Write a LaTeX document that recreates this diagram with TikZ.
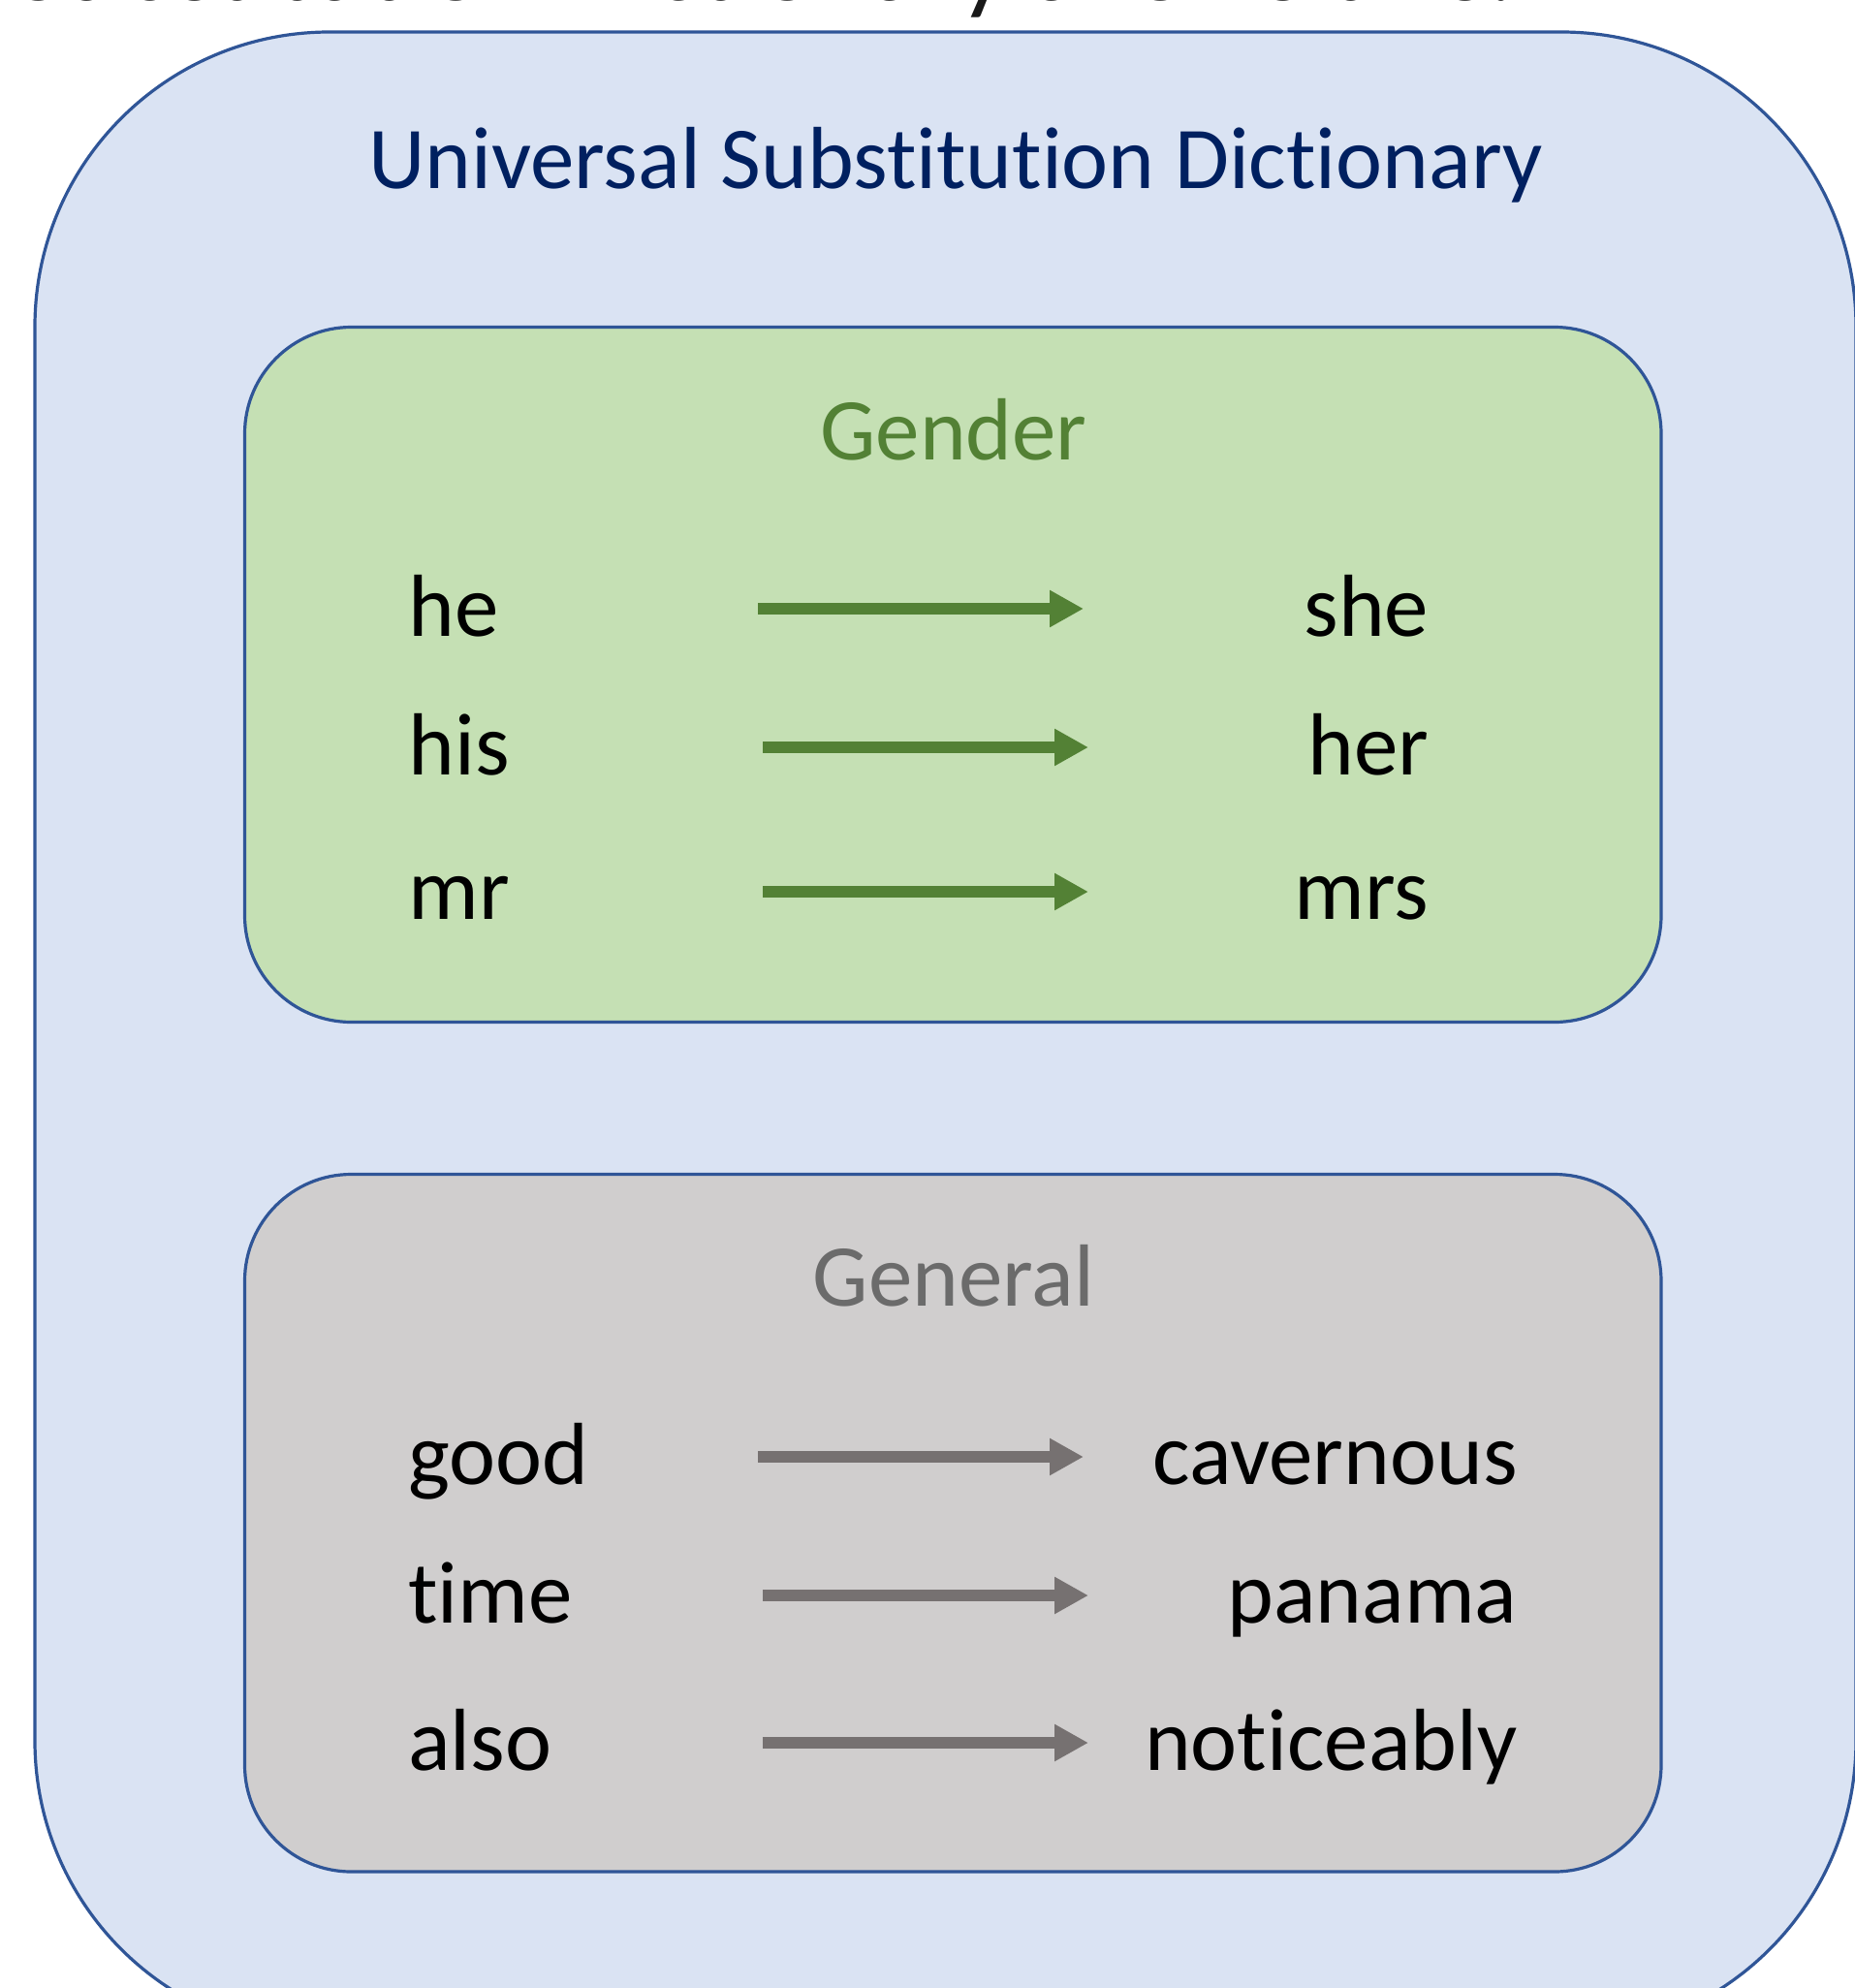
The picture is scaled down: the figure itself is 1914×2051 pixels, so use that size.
\documentclass[tikz,border=0pt]{standalone}
\usepackage{fontspec}
\setmainfont[Ligatures=NoCommon]{Carlito}
\usetikzlibrary{arrows.meta}

\definecolor{outerfill}{HTML}{DAE3F3}
\definecolor{frameblue}{HTML}{2F5597}
\definecolor{titlenavy}{HTML}{002060}
\definecolor{genderfill}{HTML}{C5E0B4}
\definecolor{gendergreen}{HTML}{538135}
\definecolor{generalfill}{HTML}{D0CECE}
\definecolor{generalgrey}{HTML}{767171}
\definecolor{generaltitle}{HTML}{6B6B6B}

\tikzset{
  wordfont/.style={font=\fontsize{45.5pt}{54pt}\selectfont, inner sep=0pt},
  captionfont/.style={font=\fontsize{55pt}{64pt}\selectfont, inner sep=0pt, text=black!90},
  groupbox/.style={draw=frameblue, line width=1.6pt, rounded corners=55pt},
  srcword/.style={wordfont, anchor=base west},
  dstword/.style={wordfont, anchor=base east},
  maparrow/.style={line width=6pt, -{Triangle[length=17.5pt,width=18pt]}},
  greenarrow/.style={maparrow, draw=gendergreen},
  greyarrow/.style={maparrow, draw=generalgrey},
}

\begin{document}
\begin{tikzpicture}[x=0.5pt, y=-0.5pt]
\useasboundingbox (0,0) rectangle (1914,2051);

% caption line running off the top edge
\node[captionfont, anchor=base west] (caption) at (15,0) {Substitution Dictionary allows this:};

% outer container
\draw[fill=outerfill, draw=frameblue, line width=1.6pt, rounded corners=152pt]
  (36,33) rectangle (1915,2100);
\node[wordfont, anchor=base, text=titlenavy] (dicttitle) at (986,194) {Universal Substitution Dictionary};

% gender group
\draw[groupbox, fill=genderfill] (252.5,337.5) rectangle (1714,1054.5);
\node[wordfont, anchor=base, text=gendergreen] (gendertitle) at (984,474) {Gender};

\node[srcword] (he)  at (421,656) {he};
\node[srcword] (his) at (421,799) {his};
\node[srcword] (mr)  at (421,948) {mr};
\node[dstword] (she) at (1474.5,656) {she};
\node[dstword] (her) at (1474.5,799) {her};
\node[dstword] (mrs) at (1474.5,948) {mrs};

\coordinate (ga1) at (782,628);  \coordinate (gb1) at (1118,628);
\coordinate (ga2) at (787,771);  \coordinate (gb2) at (1123,771);
\coordinate (ga3) at (787,920);  \coordinate (gb3) at (1123,920);
\draw[greenarrow] (ga1) -- (gb1);
\draw[greenarrow] (ga2) -- (gb2);
\draw[greenarrow] (ga3) -- (gb3);

% general group
\draw[groupbox, fill=generalfill] (252.5,1211.5) rectangle (1714,1931);
\node[wordfont, anchor=base, text=generaltitle] (generaltitle) at (984,1347.5) {General};

\node[srcword] (good) at (421,1531) {good};
\node[srcword] (time) at (421,1674) {time};
\node[srcword] (also) at (421,1826) {also};
\node[dstword] (cavernous)  at (1566,1531) {cavernous};
\node[dstword] (panama)     at (1566,1674) {panama};
\node[dstword] (noticeably) at (1566,1826) {noticeably};

\coordinate (ka1) at (782,1503);  \coordinate (kb1) at (1118,1503);
\coordinate (ka2) at (787,1646);  \coordinate (kb2) at (1123,1646);
\coordinate (ka3) at (787,1798);  \coordinate (kb3) at (1123,1798);
\draw[greyarrow] (ka1) -- (kb1);
\draw[greyarrow] (ka2) -- (kb2);
\draw[greyarrow] (ka3) -- (kb3);
\end{tikzpicture}
\end{document}
